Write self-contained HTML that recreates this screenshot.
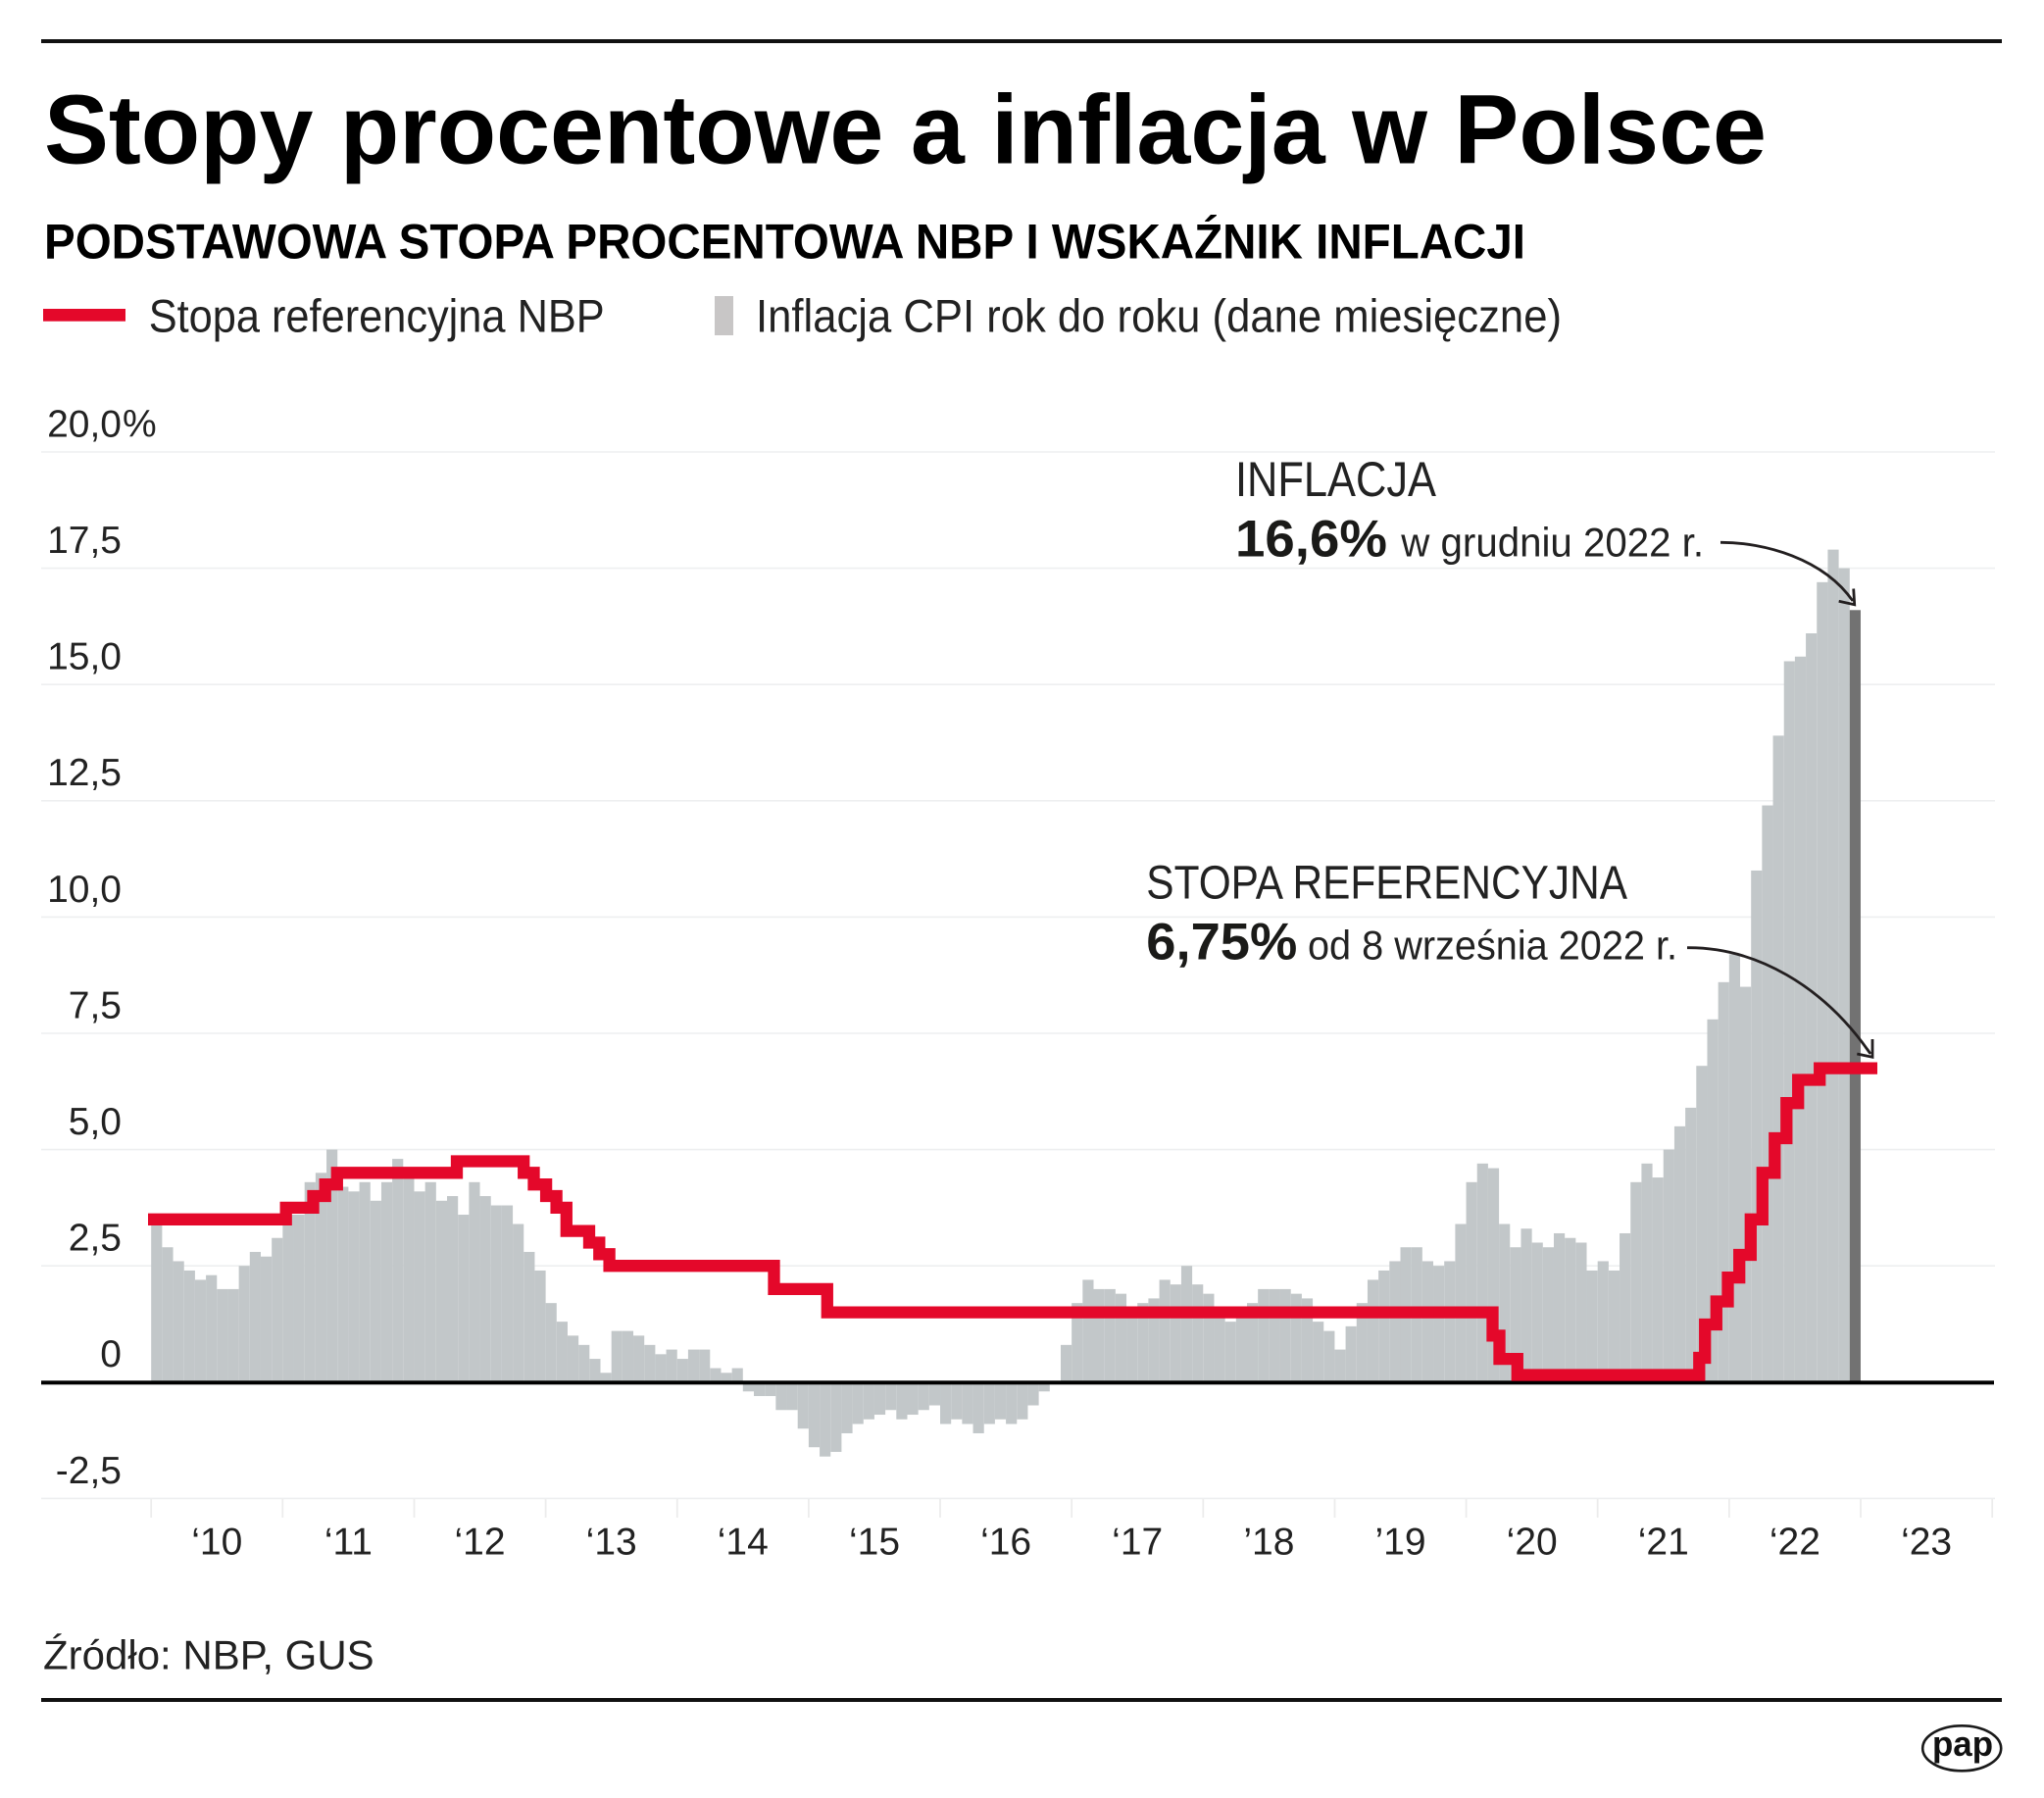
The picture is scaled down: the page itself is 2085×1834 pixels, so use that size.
<!DOCTYPE html>
<html>
<head>
<meta charset="utf-8">
<style>
html,body{margin:0;padding:0;background:#fff;width:2085px;height:1834px;overflow:hidden}
svg{display:block}
</style>
</head>
<body>
<svg width="2085" height="1834" viewBox="0 0 2085 1834" xmlns="http://www.w3.org/2000/svg" font-family="'Liberation Sans', sans-serif">
<rect x="0" y="0" width="2085" height="1834" fill="#fff"/>

<!-- top rule -->
<rect x="42" y="40" width="2000" height="4" fill="#111"/>

<!-- title -->
<text x="45" y="166.7" font-size="100" font-weight="bold" fill="#000" textLength="1757" lengthAdjust="spacingAndGlyphs">Stopy procentowe a inflacja w Polsce</text>
<text x="45" y="263.3" font-size="50" font-weight="bold" fill="#000" textLength="1511" lengthAdjust="spacingAndGlyphs">PODSTAWOWA STOPA PROCENTOWA NBP I WSKAŹNIK INFLACJI</text>

<!-- legend -->
<rect x="44" y="315" width="84" height="12.7" fill="#e4082a"/>
<text x="151.7" y="338.3" font-size="47" fill="#222" textLength="465" lengthAdjust="spacingAndGlyphs">Stopa referencyjna NBP</text>
<rect x="729" y="302" width="19" height="40" fill="#c8c6c6"/>
<text x="771" y="338.3" font-size="47" fill="#222" textLength="822" lengthAdjust="spacingAndGlyphs">Inflacja CPI rok do roku (dane miesięczne)</text>

<!-- gridlines -->
<g stroke="#eeeff0" stroke-width="1.6">
<line x1="42" y1="461" x2="2035" y2="461"/>
<line x1="42" y1="579.6" x2="2035" y2="579.6"/>
<line x1="42" y1="698.2" x2="2035" y2="698.2"/>
<line x1="42" y1="816.8" x2="2035" y2="816.8"/>
<line x1="42" y1="935.4" x2="2035" y2="935.4"/>
<line x1="42" y1="1054" x2="2035" y2="1054"/>
<line x1="42" y1="1172.6" x2="2035" y2="1172.6"/>
<line x1="42" y1="1291.2" x2="2035" y2="1291.2"/>
<line x1="42" y1="1528.4" x2="2035" y2="1528.4"/>
</g>

<!-- ticks -->
<g stroke="#ececec" stroke-width="1.8">
<line x1="154.2" y1="1529" x2="154.2" y2="1548"/>
<line x1="288.3" y1="1529" x2="288.3" y2="1548"/>
<line x1="422.5" y1="1529" x2="422.5" y2="1548"/>
<line x1="556.6" y1="1529" x2="556.6" y2="1548"/>
<line x1="690.8" y1="1529" x2="690.8" y2="1548"/>
<line x1="824.9" y1="1529" x2="824.9" y2="1548"/>
<line x1="959.0" y1="1529" x2="959.0" y2="1548"/>
<line x1="1093.2" y1="1529" x2="1093.2" y2="1548"/>
<line x1="1227.3" y1="1529" x2="1227.3" y2="1548"/>
<line x1="1361.5" y1="1529" x2="1361.5" y2="1548"/>
<line x1="1495.6" y1="1529" x2="1495.6" y2="1548"/>
<line x1="1629.7" y1="1529" x2="1629.7" y2="1548"/>
<line x1="1763.9" y1="1529" x2="1763.9" y2="1548"/>
<line x1="1898.0" y1="1529" x2="1898.0" y2="1548"/>
<line x1="2032.2" y1="1529" x2="2032.2" y2="1548"/>
</g>

<!-- y labels -->
<g font-size="39" fill="#222" text-anchor="end">
<text x="124" y="445.4">20,0</text>
<text x="124" y="564">17,5</text>
<text x="124" y="682.6">15,0</text>
<text x="124" y="801.2">12,5</text>
<text x="124" y="919.8">10,0</text>
<text x="124" y="1038.4">7,5</text>
<text x="124" y="1157">5,0</text>
<text x="124" y="1275.6">2,5</text>
<text x="124" y="1394.2">0</text>
<text x="124" y="1512.8">-2,5</text>
</g>
<text x="125" y="445.4" font-size="39" fill="#222">%</text>

<!-- x labels -->
<g font-size="39" fill="#222" text-anchor="middle">
<text x="221.3" y="1585.7">‘10</text>
<text x="355.4" y="1585.7">‘11</text>
<text x="489.5" y="1585.7">‘12</text>
<text x="623.7" y="1585.7">‘13</text>
<text x="757.8" y="1585.7">‘14</text>
<text x="892.0" y="1585.7">‘15</text>
<text x="1026.1" y="1585.7">‘16</text>
<text x="1160.2" y="1585.7">‘17</text>
<text x="1294.4" y="1585.7">’18</text>
<text x="1428.5" y="1585.7">’19</text>
<text x="1562.7" y="1585.7">‘20</text>
<text x="1696.8" y="1585.7">‘21</text>
<text x="1830.9" y="1585.7">‘22</text>
<text x="1965.1" y="1585.7">‘23</text>
</g>

<!-- bars -->
<g transform="translate(154.2 1409.8) scale(11.178 -47.44)" fill="#c2c7c9">
<rect x="0" y="0" width="1" height="3.5"/>
<rect x="1" y="0" width="1" height="2.9"/>
<rect x="2" y="0" width="1" height="2.6"/>
<rect x="3" y="0" width="1" height="2.4"/>
<rect x="4" y="0" width="1" height="2.2"/>
<rect x="5" y="0" width="1" height="2.3"/>
<rect x="6" y="0" width="1" height="2.0"/>
<rect x="7" y="0" width="1" height="2.0"/>
<rect x="8" y="0" width="1" height="2.5"/>
<rect x="9" y="0" width="1" height="2.8"/>
<rect x="10" y="0" width="1" height="2.7"/>
<rect x="11" y="0" width="1" height="3.1"/>
<rect x="12" y="0" width="1" height="3.6"/>
<rect x="13" y="0" width="1" height="3.6"/>
<rect x="14" y="0" width="1" height="4.3"/>
<rect x="15" y="0" width="1" height="4.5"/>
<rect x="16" y="0" width="1" height="5.0"/>
<rect x="17" y="0" width="1" height="4.2"/>
<rect x="18" y="0" width="1" height="4.1"/>
<rect x="19" y="0" width="1" height="4.3"/>
<rect x="20" y="0" width="1" height="3.9"/>
<rect x="21" y="0" width="1" height="4.3"/>
<rect x="22" y="0" width="1" height="4.8"/>
<rect x="23" y="0" width="1" height="4.6"/>
<rect x="24" y="0" width="1" height="4.1"/>
<rect x="25" y="0" width="1" height="4.3"/>
<rect x="26" y="0" width="1" height="3.9"/>
<rect x="27" y="0" width="1" height="4.0"/>
<rect x="28" y="0" width="1" height="3.6"/>
<rect x="29" y="0" width="1" height="4.3"/>
<rect x="30" y="0" width="1" height="4.0"/>
<rect x="31" y="0" width="1" height="3.8"/>
<rect x="32" y="0" width="1" height="3.8"/>
<rect x="33" y="0" width="1" height="3.4"/>
<rect x="34" y="0" width="1" height="2.8"/>
<rect x="35" y="0" width="1" height="2.4"/>
<rect x="36" y="0" width="1" height="1.7"/>
<rect x="37" y="0" width="1" height="1.3"/>
<rect x="38" y="0" width="1" height="1.0"/>
<rect x="39" y="0" width="1" height="0.8"/>
<rect x="40" y="0" width="1" height="0.5"/>
<rect x="41" y="0" width="1" height="0.2"/>
<rect x="42" y="0" width="1" height="1.1"/>
<rect x="43" y="0" width="1" height="1.1"/>
<rect x="44" y="0" width="1" height="1.0"/>
<rect x="45" y="0" width="1" height="0.8"/>
<rect x="46" y="0" width="1" height="0.6"/>
<rect x="47" y="0" width="1" height="0.7"/>
<rect x="48" y="0" width="1" height="0.5"/>
<rect x="49" y="0" width="1" height="0.7"/>
<rect x="50" y="0" width="1" height="0.7"/>
<rect x="51" y="0" width="1" height="0.3"/>
<rect x="52" y="0" width="1" height="0.2"/>
<rect x="53" y="0" width="1" height="0.3"/>
<rect x="54" y="-0.2" width="1" height="0.2"/>
<rect x="55" y="-0.3" width="1" height="0.3"/>
<rect x="56" y="-0.3" width="1" height="0.3"/>
<rect x="57" y="-0.6" width="1" height="0.6"/>
<rect x="58" y="-0.6" width="1" height="0.6"/>
<rect x="59" y="-1.0" width="1" height="1.0"/>
<rect x="60" y="-1.4" width="1" height="1.4"/>
<rect x="61" y="-1.6" width="1" height="1.6"/>
<rect x="62" y="-1.5" width="1" height="1.5"/>
<rect x="63" y="-1.1" width="1" height="1.1"/>
<rect x="64" y="-0.9" width="1" height="0.9"/>
<rect x="65" y="-0.8" width="1" height="0.8"/>
<rect x="66" y="-0.7" width="1" height="0.7"/>
<rect x="67" y="-0.6" width="1" height="0.6"/>
<rect x="68" y="-0.8" width="1" height="0.8"/>
<rect x="69" y="-0.7" width="1" height="0.7"/>
<rect x="70" y="-0.6" width="1" height="0.6"/>
<rect x="71" y="-0.5" width="1" height="0.5"/>
<rect x="72" y="-0.9" width="1" height="0.9"/>
<rect x="73" y="-0.8" width="1" height="0.8"/>
<rect x="74" y="-0.9" width="1" height="0.9"/>
<rect x="75" y="-1.1" width="1" height="1.1"/>
<rect x="76" y="-0.9" width="1" height="0.9"/>
<rect x="77" y="-0.8" width="1" height="0.8"/>
<rect x="78" y="-0.9" width="1" height="0.9"/>
<rect x="79" y="-0.8" width="1" height="0.8"/>
<rect x="80" y="-0.5" width="1" height="0.5"/>
<rect x="81" y="-0.2" width="1" height="0.2"/>
<rect x="83" y="0" width="1" height="0.8"/>
<rect x="84" y="0" width="1" height="1.7"/>
<rect x="85" y="0" width="1" height="2.2"/>
<rect x="86" y="0" width="1" height="2.0"/>
<rect x="87" y="0" width="1" height="2.0"/>
<rect x="88" y="0" width="1" height="1.9"/>
<rect x="89" y="0" width="1" height="1.5"/>
<rect x="90" y="0" width="1" height="1.7"/>
<rect x="91" y="0" width="1" height="1.8"/>
<rect x="92" y="0" width="1" height="2.2"/>
<rect x="93" y="0" width="1" height="2.1"/>
<rect x="94" y="0" width="1" height="2.5"/>
<rect x="95" y="0" width="1" height="2.1"/>
<rect x="96" y="0" width="1" height="1.9"/>
<rect x="97" y="0" width="1" height="1.4"/>
<rect x="98" y="0" width="1" height="1.3"/>
<rect x="99" y="0" width="1" height="1.6"/>
<rect x="100" y="0" width="1" height="1.7"/>
<rect x="101" y="0" width="1" height="2.0"/>
<rect x="102" y="0" width="1" height="2.0"/>
<rect x="103" y="0" width="1" height="2.0"/>
<rect x="104" y="0" width="1" height="1.9"/>
<rect x="105" y="0" width="1" height="1.8"/>
<rect x="106" y="0" width="1" height="1.3"/>
<rect x="107" y="0" width="1" height="1.1"/>
<rect x="108" y="0" width="1" height="0.7"/>
<rect x="109" y="0" width="1" height="1.2"/>
<rect x="110" y="0" width="1" height="1.7"/>
<rect x="111" y="0" width="1" height="2.2"/>
<rect x="112" y="0" width="1" height="2.4"/>
<rect x="113" y="0" width="1" height="2.6"/>
<rect x="114" y="0" width="1" height="2.9"/>
<rect x="115" y="0" width="1" height="2.9"/>
<rect x="116" y="0" width="1" height="2.6"/>
<rect x="117" y="0" width="1" height="2.5"/>
<rect x="118" y="0" width="1" height="2.6"/>
<rect x="119" y="0" width="1" height="3.4"/>
<rect x="120" y="0" width="1" height="4.3"/>
<rect x="121" y="0" width="1" height="4.7"/>
<rect x="122" y="0" width="1" height="4.6"/>
<rect x="123" y="0" width="1" height="3.4"/>
<rect x="124" y="0" width="1" height="2.9"/>
<rect x="125" y="0" width="1" height="3.3"/>
<rect x="126" y="0" width="1" height="3.0"/>
<rect x="127" y="0" width="1" height="2.9"/>
<rect x="128" y="0" width="1" height="3.2"/>
<rect x="129" y="0" width="1" height="3.1"/>
<rect x="130" y="0" width="1" height="3.0"/>
<rect x="131" y="0" width="1" height="2.4"/>
<rect x="132" y="0" width="1" height="2.6"/>
<rect x="133" y="0" width="1" height="2.4"/>
<rect x="134" y="0" width="1" height="3.2"/>
<rect x="135" y="0" width="1" height="4.3"/>
<rect x="136" y="0" width="1" height="4.7"/>
<rect x="137" y="0" width="1" height="4.4"/>
<rect x="138" y="0" width="1" height="5.0"/>
<rect x="139" y="0" width="1" height="5.5"/>
<rect x="140" y="0" width="1" height="5.9"/>
<rect x="141" y="0" width="1" height="6.8"/>
<rect x="142" y="0" width="1" height="7.8"/>
<rect x="143" y="0" width="1" height="8.6"/>
<rect x="144" y="0" width="1" height="9.2"/>
<rect x="145" y="0" width="1" height="8.5"/>
<rect x="146" y="0" width="1" height="11.0"/>
<rect x="147" y="0" width="1" height="12.4"/>
<rect x="148" y="0" width="1" height="13.9"/>
<rect x="149" y="0" width="1" height="15.5"/>
<rect x="150" y="0" width="1" height="15.6"/>
<rect x="151" y="0" width="1" height="16.1"/>
<rect x="152" y="0" width="1" height="17.2"/>
<rect x="153" y="0" width="1" height="17.9"/>
<rect x="154" y="0" width="1" height="17.5"/>
<rect x="155" y="0" width="1" height="16.6" fill="#727272"/>
</g>

<!-- zero axis -->
<rect x="42" y="1408.3" width="1992" height="4" fill="#000"/>

<!-- reference rate line -->
<path d="M151,1243.8 H291.7 V1231.9 H319.5 V1220.0 H331.7 V1208.2 H343.8 V1196.3 H466 V1184.5 H534.2 V1196.3 H544.5 V1208.2 H557.1 V1220.0 H567.6 V1231.9 H577.8 V1255.6 H601.0 V1267.5 H611.3 V1279.3 H621.6 V1291.2 H789.5 V1314.9 H843.8 V1338.6 H1522.5 V1362.4 H1529.5 V1386.1 H1547.8 V1402.5 H1733.3 V1385 H1739.2 V1351 H1750.8 V1327.5 H1762.5 V1303.1 H1774.2 V1280 H1785.8 V1243.8 H1797.8 V1196.3 H1810.3 V1161 H1822.3 V1125.2 H1834.2 V1101.5 H1856.2 V1089.6 H1915" fill="none" stroke="#e4082a" stroke-width="12.3" stroke-linejoin="miter" stroke-linecap="butt"/>

<!-- annotations -->
<text x="1260" y="506" font-size="50" fill="#222" textLength="205" lengthAdjust="spacingAndGlyphs">INFLACJA</text>
<text x="1260" y="567.7" font-size="53" font-weight="bold" fill="#1a1a18" textLength="155" lengthAdjust="spacingAndGlyphs">16,6%</text>
<text x="1429.3" y="567.7" font-size="42" fill="#222" textLength="308.7" lengthAdjust="spacingAndGlyphs">w grudniu 2022 r.</text>
<path d="M1755,553.3 C1800,553 1860,570 1890,613" fill="none" stroke="#231f20" stroke-width="2.8"/>
<path d="M1890.7,600.5 L1891.7,616.7 L1875.7,613.3" fill="none" stroke="#231f20" stroke-width="2.8"/>

<text x="1169.3" y="916.7" font-size="48" fill="#222" textLength="490.7" lengthAdjust="spacingAndGlyphs">STOPA REFERENCYJNA</text>
<text x="1169.3" y="978.3" font-size="53" font-weight="bold" fill="#1a1a18" textLength="154" lengthAdjust="spacingAndGlyphs">6,75%</text>
<text x="1334" y="978.3" font-size="42" fill="#222" textLength="377" lengthAdjust="spacingAndGlyphs">od 8 września 2022 r.</text>
<path d="M1721,966.7 C1790,966 1860,1005 1908,1075" fill="none" stroke="#231f20" stroke-width="2.8"/>
<path d="M1910,1060 L1910,1078.3 L1894.3,1075" fill="none" stroke="#231f20" stroke-width="2.8"/>

<!-- source -->
<text x="44" y="1702.3" font-size="42" fill="#222" textLength="337.7" lengthAdjust="spacingAndGlyphs">Źródło: NBP, GUS</text>

<!-- bottom rule -->
<rect x="42" y="1732" width="2000" height="4" fill="#111"/>

<!-- logo -->
<ellipse cx="2001.2" cy="1783.3" rx="40" ry="23" fill="#fff" stroke="#1a1a1a" stroke-width="2.6"/>
<text x="2002" y="1791" font-size="36" font-weight="bold" fill="#111" text-anchor="middle" textLength="62" lengthAdjust="spacingAndGlyphs">pap</text>
</svg>
</body>
</html>
